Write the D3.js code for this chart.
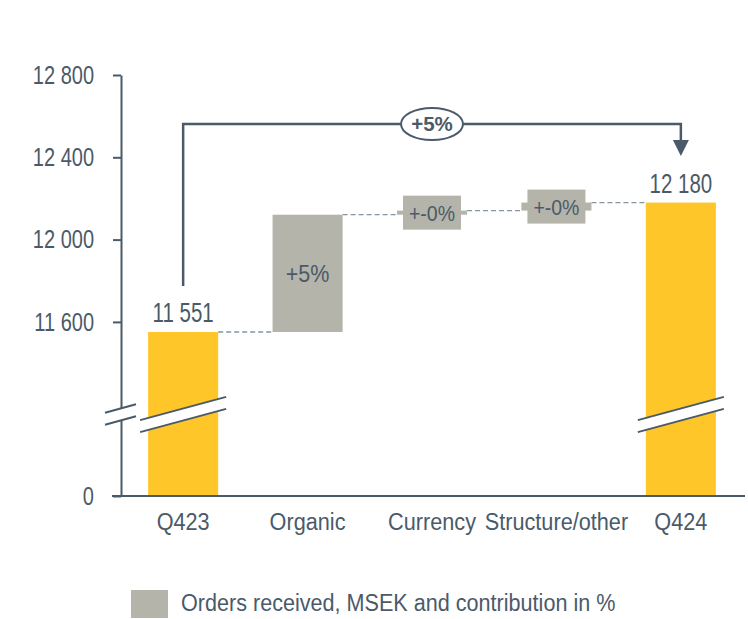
<!DOCTYPE html>
<html>
<head>
<meta charset="utf-8">
<script src="https://cdn.jsdelivr.net/npm/d3@7"></script>
<style>
	html, body { margin: 0; padding: 0; background: #fff; }
	#chart { width: 748px; height: 619px; }
	text { font-family: 'Liberation Sans', Arial, sans-serif; }
</style>
</head>
<body>
<div id="chart"></div>
<script>
	// Chart data
	const categories = ['Q423', 'Organic', 'Currency', 'Structure/other', 'Q424'];
	const orderValues = [11551, 570, 20, 39, 12180];
	const barTypes = ['total', 'step', 'step', 'step', 'total'];
	const stepLabels = ['', '+5%', '+-0%', '+-0%', ''];
	const yTickValues = [0, 11600, 12000, 12400, 12800];
	const breakValue = 11150;
	const totalChangeLabel = '+5%';
	const legendLabel = 'Orders received, MSEK and contribution in %';

	(function() {
		const textColor = '#4a5a69';
		const yellow = '#ffc629';
		const grey = '#b4b4aa';
		const dashColor = '#8795a1';

		const width = 748;
		const height = 619;

		const svg = d3.select('#chart')
			.append('svg')
			.attr('width', width)
			.attr('height', height);

		// Scales (y is broken between 0 and the upper range)
		const x = d3.scaleBand()
			.domain(categories)
			.range([121, 743])
			.paddingInner(0.437)
			.paddingOuter(0.218);
		const y = d3.scaleLinear()
			.domain([0, breakValue, 12800])
			.range([496, 414.5, 75]);

		const fmt = d3.formatLocale({ decimal: '.', thousands: ' ', grouping: [3], currency: ['', ''] }).format(',d');

		// Running totals for the waterfall
		let running = 0;
		const bars = categories.map(function(name, i) {
			let start, end;
			if (barTypes[i] === 'total') {
				start = 0;
				end = orderValues[i];
			} else {
				start = running;
				end = running + orderValues[i];
			}
			running = end;
			return { name: name, start: start, end: end, type: barTypes[i], label: stepLabels[i], value: orderValues[i] };
		});

		const bw = x.bandwidth();

		// Connectors
		svg.append('g')
			.selectAll('line')
			.data(bars.slice(0, -1))
			.enter()
			.append('line')
			.attr('x1', function(d) { return x(d.name) + bw; })
			.attr('x2', function(d, i) { return x(bars[i + 1].name); })
			.attr('y1', function(d) { return y(d.end); })
			.attr('y2', function(d) { return y(d.end); })
			.attr('stroke', dashColor)
			.attr('stroke-width', 1.3)
			.attr('stroke-dasharray', '5,3');

		// Bars
		svg.append('g')
			.selectAll('rect')
			.data(bars)
			.enter()
			.append('rect')
			.attr('x', function(d) { return x(d.name); })
			.attr('width', bw)
			.attr('y', function(d) { return y(Math.max(d.start, d.end)); })
			.attr('height', function(d) { return Math.abs(y(d.start) - y(d.end)); })
			.attr('fill', function(d) { return d.type === 'total' ? yellow : grey; });

		// Break marks
		const breakY = y(breakValue);
		function drawBreak(cx, halfW) {
			const slope = 0.27;
			const gap = 6;
			const g = svg.append('g');
			g.append('polygon')
				.attr('points', [
					[cx - halfW, breakY + slope * halfW - gap],
					[cx + halfW, breakY - slope * halfW - gap],
					[cx + halfW, breakY - slope * halfW + gap],
					[cx - halfW, breakY + slope * halfW + gap]
				].map(function(p) { return p.join(','); }).join(' '))
				.attr('fill', '#fff');
			[-gap, gap].forEach(function(off) {
				g.append('line')
					.attr('x1', cx - halfW)
					.attr('y1', breakY + slope * halfW + off)
					.attr('x2', cx + halfW)
					.attr('y2', breakY - slope * halfW + off)
					.attr('stroke', textColor)
					.attr('stroke-width', 2);
			});
		}

		// Axes
		const yAxis = svg.append('g')
			.attr('transform', 'translate(121,0)')
			.call(d3.axisLeft(y).tickValues(yTickValues).tickSize(8).tickSizeOuter(0).tickPadding(19).tickFormat(fmt));
		const xAxis = svg.append('g')
			.attr('transform', 'translate(0,496)')
			.call(d3.axisBottom(x).tickSize(0).tickSizeOuter(0).tickPadding(0));

		svg.selectAll('.domain, .tick line')
			.attr('stroke', textColor)
			.attr('stroke-width', 2);
		yAxis.selectAll('.tick text')
			.attr('fill', textColor)
			.style('font-size', '20px')
			.attr('transform', 'scale(1,1.3)');
		xAxis.selectAll('.tick text')
			.attr('fill', textColor)
			.attr('y', 0)
			.attr('dy', null)
			.style('font-size', '21.7px')
			.attr('transform', 'translate(0,34) scale(1,1.12)');
		xAxis.select('.domain').attr('d', 'M112,0H745');

		bars.forEach(function(d) {
			if (d.type === 'total') drawBreak(x(d.name) + bw / 2, bw / 2 + 8);
		});
		drawBreak(120.5, 15.5);

		// Value labels on totals
		svg.append('g')
			.selectAll('text')
			.data(bars.filter(function(d) { return d.type === 'total'; }))
			.enter()
			.append('text')
			.attr('transform', function(d) {
				return 'translate(' + (x(d.name) + bw / 2) + ',' + (y(d.end) - 10) + ') scale(1,1.32)';
			})
			.attr('text-anchor', 'middle')
			.attr('fill', textColor)
			.style('font-size', '20.5px')
			.text(function(d) { return fmt(d.value); });

		// Step labels
		bars.filter(function(d) { return d.type === 'step'; }).forEach(function(d) {
			const cx = x(d.name) + bw / 2;
			const cy = (y(d.start) + y(d.end)) / 2;
			const small = Math.abs(y(d.start) - y(d.end)) < 30;
			if (small) {
				svg.append('rect')
					.attr('x', cx - 29)
					.attr('y', cy - 17)
					.attr('width', 58)
					.attr('height', 34)
					.attr('fill', grey);
			}
			svg.append('text')
				.attr('transform', 'translate(' + cx + ',' + cy + ') scale(1,' + (small ? 1.15 : 1.1) + ')')
				.attr('text-anchor', 'middle')
				.attr('dy', '0.36em')
				.attr('fill', textColor)
				.style('font-size', small ? '19.5px' : '21.5px')
				.text(d.label);
		});

		// Overall change callout
		const x0 = x(categories[0]) + bw / 2;
		const x1 = x(categories[categories.length - 1]) + bw / 2;
		const topY = 124;
		svg.append('path')
			.attr('d', 'M' + x0 + ',286V' + topY + 'H' + x1 + 'V142')
			.attr('fill', 'none')
			.attr('stroke', textColor)
			.attr('stroke-width', 2.5);
		svg.append('path')
			.attr('d', 'M' + (x1 - 8) + ',140L' + (x1 + 8) + ',140L' + x1 + ',156Z')
			.attr('fill', textColor);
		svg.append('ellipse')
			.attr('cx', (x0 + x1) / 2)
			.attr('cy', topY)
			.attr('rx', 31)
			.attr('ry', 16)
			.attr('fill', '#fff')
			.attr('stroke', textColor)
			.attr('stroke-width', 2);
		svg.append('text')
			.attr('x', (x0 + x1) / 2)
			.attr('y', topY)
			.attr('dy', '0.36em')
			.attr('text-anchor', 'middle')
			.attr('fill', textColor)
			.style('font-size', '20.5px')
			.style('font-weight', 'bold')
			.text(totalChangeLabel);

		// Legend
		svg.append('rect')
			.attr('x', 131)
			.attr('y', 590)
			.attr('width', 37)
			.attr('height', 28)
			.attr('fill', grey);
		svg.append('text')
			.attr('transform', 'translate(181,611) scale(1,1.12)')
			.attr('fill', textColor)
			.style('font-size', '21.6px')
			.text(legendLabel);
	})();
</script>
</body>
</html>
